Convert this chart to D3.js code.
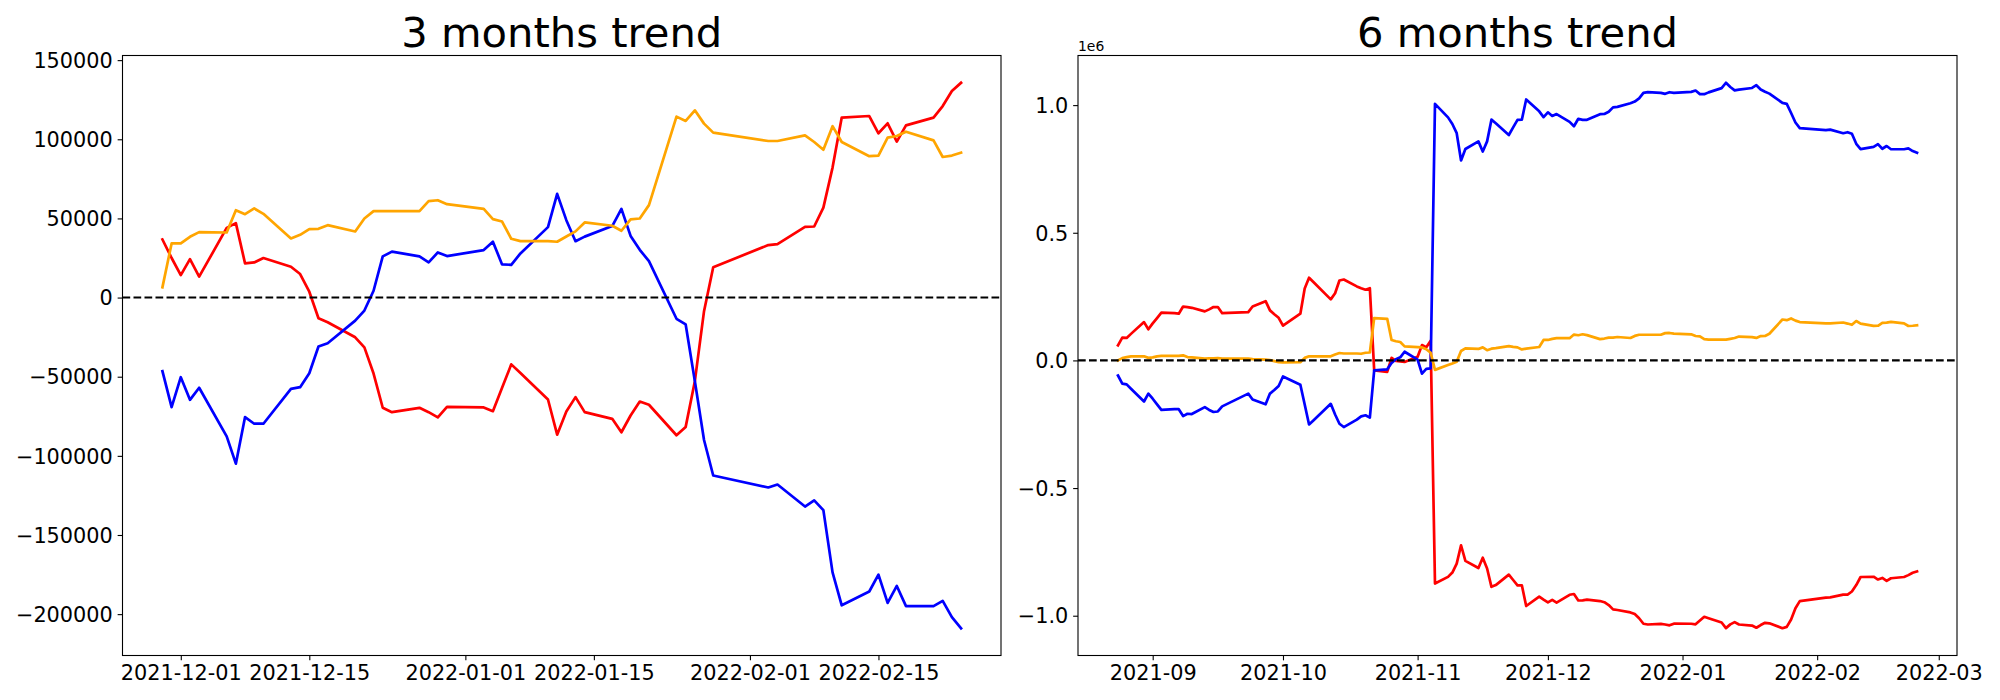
<!DOCTYPE html>
<html><head><meta charset="utf-8">
<script src="https://cdn.jsdelivr.net/npm/d3@7"></script>
<style>
html,body{margin:0;padding:0;background:#fff;}
svg{display:block;font-family:"DejaVu Sans",sans-serif;}
</style></head><body>
<svg id="chart" width="2000" height="700"></svg>
<script>
// ---------------- 3 months panel data ----------------
const dates3 = [
"2021-11-29","2021-11-30","2021-12-01","2021-12-02","2021-12-03",
"2021-12-06","2021-12-07","2021-12-08","2021-12-09","2021-12-10",
"2021-12-13","2021-12-14","2021-12-15","2021-12-16","2021-12-17",
"2021-12-20","2021-12-21","2021-12-22","2021-12-23","2021-12-24",
"2021-12-27","2021-12-28","2021-12-29","2021-12-30",
"2022-01-03","2022-01-04","2022-01-05","2022-01-06","2022-01-07",
"2022-01-10","2022-01-11","2022-01-12","2022-01-13","2022-01-14",
"2022-01-17","2022-01-18","2022-01-19","2022-01-20","2022-01-21",
"2022-01-24","2022-01-25","2022-01-26","2022-01-27","2022-01-28",
"2022-02-03","2022-02-04",
"2022-02-07","2022-02-08","2022-02-09","2022-02-10","2022-02-11",
"2022-02-14","2022-02-15","2022-02-16","2022-02-17","2022-02-18",
"2022-02-21","2022-02-22","2022-02-23","2022-02-24"];
const red3 = [36700,25000,14200,24300,13200,44000,47000,21600,22200,24950,
19500,14850,3700,-13100,-15600,-25100,-31500,-48000,-69600,-72400,
-69650,-72400,-75700,-69000,-69400,-71750,-57000,-42200,-47700,
-64400,-86600,-72000,-62900,-72400,-76600,-85100,-74500,-65700,-67700,
-87000,-81700,-52800,-8600,19200,33150,33800,
44700,44900,56800,82100,113700,114700,103800,110100,98500,108800,
113650,121000,130500,135700];
const blue3 = [-46500,-69200,-50300,-64600,-57000,-87700,-104950,-75500,-79700,-79700,
-57650,-56600,-47800,-30950,-28850,-14550,-8200,4300,26000,29000,
26000,22200,28500,26200,30000,35250,20950,20700,27900,
44500,65500,48900,35600,38500,45150,56000,38950,30150,23000,
-13400,-17000,-52800,-90000,-112400,-120000,-118100,
-132000,-128100,-134300,-173600,-194400,-185700,-175000,-192900,-182200,-194900,
-194900,-191600,-201900,-208900];
const orange3 = [6500,34200,34200,38400,41350,41100,55200,52700,56300,52900,
37350,39650,43250,43450,45750,41750,49950,54600,54600,54600,
54600,60900,61500,59000,56050,49550,48050,37150,35650,
35650,35250,38600,41800,47450,45350,42200,49350,49950,58400,
114300,111600,118300,109900,104200,98900,98900,
102500,98300,93400,108300,98300,89300,89700,101000,102100,104800,
99300,88800,89700,91500];

// ---------------- 6 months panel data ----------------
const dates6 = [
"2021-08-24","2021-08-25","2021-08-26","2021-08-27","2021-08-30","2021-08-31",
"2021-09-01","2021-09-02","2021-09-03","2021-09-06","2021-09-07","2021-09-08","2021-09-09","2021-09-10",
"2021-09-13","2021-09-14","2021-09-15","2021-09-16","2021-09-17","2021-09-23","2021-09-24",
"2021-09-27","2021-09-28","2021-09-29","2021-09-30","2021-10-01",
"2021-10-05","2021-10-06","2021-10-07","2021-10-08","2021-10-12","2021-10-13","2021-10-14","2021-10-15",
"2021-10-18","2021-10-19","2021-10-20","2021-10-21","2021-10-22",
"2021-10-25","2021-10-26","2021-10-27","2021-10-28","2021-10-29",
"2021-11-01","2021-11-02","2021-11-03","2021-11-04","2021-11-05",
"2021-11-08","2021-11-09","2021-11-10","2021-11-11","2021-11-12",
"2021-11-15","2021-11-16","2021-11-17","2021-11-18","2021-11-19",
"2021-11-22","2021-11-23","2021-11-24","2021-11-25","2021-11-26",
"2021-11-29","2021-11-30","2021-12-01","2021-12-02","2021-12-03",
"2021-12-06","2021-12-07","2021-12-08","2021-12-09","2021-12-10",
"2021-12-13","2021-12-14","2021-12-15","2021-12-16","2021-12-17",
"2021-12-20","2021-12-21","2021-12-22","2021-12-23","2021-12-24",
"2021-12-27","2021-12-28","2021-12-29","2021-12-30",
"2022-01-03","2022-01-04","2022-01-05","2022-01-06","2022-01-07",
"2022-01-10","2022-01-11","2022-01-12","2022-01-13","2022-01-14",
"2022-01-17","2022-01-18","2022-01-19","2022-01-20","2022-01-21",
"2022-01-24","2022-01-25","2022-01-26","2022-01-27","2022-01-28",
"2022-02-03","2022-02-04",
"2022-02-07","2022-02-08","2022-02-09","2022-02-10","2022-02-11",
"2022-02-14","2022-02-15","2022-02-16","2022-02-17","2022-02-18",
"2022-02-21","2022-02-22","2022-02-23","2022-02-24"];
const red6 = [59000,89000,88000,104000,150000,122000,
145000,166000,187000,185000,183000,211000,209000,206000,
192000,200000,209000,209000,185000,189000,211000,
232000,196000,181000,167000,136000,
183000,282000,324000,307000,239000,263000,313000,317000,
290000,283000,277000,283000,-39000,
-45000,10000,-2000,-4000,-6000,
14000,60000,52000,77000,-874000,
-848000,-831000,-796000,-724000,-785000,
-813000,-773000,-815000,-887000,-880000,
-839000,-860000,-881000,-881000,-962000,
-925300,-937000,-947800,-937700,-948800,
-918000,-915000,-940400,-939800,-937050,
-942500,-947150,-958300,-975100,-977600,
-987100,-993500,-1010000,-1031600,-1034400,
-1031650,-1034400,-1037700,-1031000,
-1031400,-1033750,-1019000,-1004200,-1009700,
-1026400,-1048600,-1034000,-1024900,-1034400,
-1038600,-1047100,-1036500,-1027700,-1029700,
-1049000,-1043700,-1014800,-970600,-942800,
-928850,-928200,
-917300,-917100,-905200,-879900,-848300,
-847300,-858200,-851900,-863500,-853200,
-848350,-841000,-831500,-826300];
const blue6 = [-59000,-91000,-94000,-111000,-161000,-130000,
-150000,-172000,-194000,-191000,-191000,-218000,-209000,-210000,
-183000,-194000,-202000,-200000,-180000,-130000,-153000,
-172000,-130000,-116000,-100000,-63000,
-95000,-173000,-251000,-235000,-170000,-212000,-248000,-261000,
-232000,-219000,-215000,-224000,-39000,
-35000,-10000,5000,12000,34000,
3000,-52000,-33000,-31000,1005000,
952000,926000,890000,783000,828000,
858000,818000,858000,943000,929000,
883000,913000,942000,943000,1022000,
975500,952800,971700,957400,965000,
934300,917050,946500,942300,942300,
964350,965400,974200,991050,993150,
1007450,1013800,1026300,1048000,1051000,
1048000,1044200,1050500,1048200,
1052000,1057250,1042950,1042700,1049900,
1066500,1087500,1070900,1057600,1060500,
1067150,1078000,1060950,1052150,1045000,
1008600,1005000,969200,932000,909600,
902000,903900,
890000,893900,887700,848400,827600,
836300,847000,829100,839800,827100,
827100,830400,820100,813100];
const orange6 = [0,9000,13000,16000,16000,10000,
12000,16000,18000,18000,18000,20000,13000,12000,
7000,8000,8000,9000,7000,7000,5000,
3000,1000,-3000,-7000,-8000,
-7000,10000,16000,16000,16000,23000,29000,27000,
27000,26000,30000,31000,166000,
163000,80000,75000,72000,55000,
52000,51000,44000,30000,-37000,
-18000,-12000,-5000,37000,47000,
45000,51000,40000,46000,48000,
56000,53000,51000,43000,46000,
52500,80200,80200,84400,87350,
87100,101200,98700,102300,98900,
83350,85650,89250,89450,91750,
87750,95950,100600,100600,100600,
100600,106900,107500,105000,
102050,95550,94050,83150,81650,
81650,81250,84600,87800,93450,
91350,88200,95350,95950,104400,
160300,157600,164300,155900,150200,
144900,144900,
148500,144300,139400,154300,144300,
135300,135700,147000,148100,150800,
145300,134800,135700,137500];

// ---------------- tick labels ----------------
const xTicks3 = ["2021-12-01","2021-12-15","2022-01-01","2022-01-15","2022-02-01","2022-02-15"];
const yTicks3 = [-200000,-150000,-100000,-50000,0,50000,100000,150000];
const xTicks6 = ["2021-09","2021-10","2021-11","2021-12","2022-01","2022-02","2022-03"];
const yTicks6 = [-1.0,-0.5,0.0,0.5,1.0];
const yScale6 = 1e6;
const titles = ["3 months trend","6 months trend"];
const seriesColors = {red:"#ff0000", blue:"#0000ff", orange:"#ffa500"};

// ---------------- drawing ----------------
const svg = d3.select("#chart");
svg.append("rect").attr("width",2000).attr("height",700).attr("fill","#fff");
const parseDay = d3.utcParse("%Y-%m-%d");
const parseMonth = d3.utcParse("%Y-%m");
const TICK = 4.86, FS = 20.8;
const minus = s => s.replace(/-/g, "\u2212");

function panel(box, dates, series, xt, xtParse, yt, ytMul, ytFmt, title, offsetText) {
  const g = svg.append("g");
  const ds = dates.map(parseDay);
  const ext = d3.extent(ds);
  const padT = (ext[1] - ext[0]) * 0.05;
  const x = d3.scaleUtc()
    .domain([new Date(+ext[0] - padT), new Date(+ext[1] + padT)])
    .range([box.left, box.right]);
  const all = series.flatMap(s => s.values);
  const lo = d3.min(all), hi = d3.max(all), pad = (hi - lo) * 0.05;
  const y = d3.scaleLinear().domain([lo - pad, hi + pad]).range([box.bottom, box.top]);

  // lines
  const line = d3.line().x((d, i) => x(ds[i])).y(d => y(d));
  series.forEach(s => {
    g.append("path").datum(s.values)
      .attr("d", line)
      .attr("fill", "none")
      .attr("stroke", s.color)
      .attr("stroke-width", 2.7)
      .attr("stroke-linejoin", "round")
      .attr("stroke-linecap", "square");
  });
  // zero dashed line
  g.append("line")
    .attr("x1", box.left).attr("x2", box.right)
    .attr("y1", y(0)).attr("y2", y(0))
    .attr("stroke", "#000").attr("stroke-width", 2.08)
    .attr("stroke-dasharray", "7.7,3.3");

  // axes
  const xa = g.append("g").attr("transform", `translate(0,${box.bottom})`)
    .call(d3.axisBottom(x).tickValues(xt.map(xtParse))
      .tickFormat((d, i) => xt[i]).tickSizeOuter(0).tickSize(TICK).tickPadding(TICK));
  const ya = g.append("g").attr("transform", `translate(${box.left},0)`)
    .call(d3.axisLeft(y).tickValues(yt.map(v => v * ytMul))
      .tickFormat((d, i) => ytFmt(yt[i])).tickSizeOuter(0).tickSize(TICK).tickPadding(TICK));
  [xa, ya].forEach(a => {
    a.select(".domain").remove();
    a.selectAll(".tick line").attr("stroke", "#000").attr("stroke-width", 1.1);
    a.selectAll(".tick text").attr("fill", "#000")
      .style("font-family", "'DejaVu Sans', sans-serif").style("font-size", FS + "px");
  });
  ya.selectAll(".tick text").attr("dy", "0.35em");

  // frame
  g.append("rect").attr("x", box.left).attr("y", box.top)
    .attr("width", box.right - box.left).attr("height", box.bottom - box.top)
    .attr("fill", "none").attr("stroke", "#000").attr("stroke-width", 1.1);

  // title
  g.append("text").attr("x", (box.left + box.right) / 2).attr("y", box.top - 8.3)
    .attr("text-anchor", "middle").style("font-size", "41.7px").attr("fill", "#000")
    .text(title);
  if (offsetText) {
    g.append("text").attr("x", box.left).attr("y", box.top - 5)
      .style("font-size", "13.9px").attr("fill", "#000").text(offsetText);
  }
}

panel({left:122.5, right:1001, top:55.5, bottom:655.5}, dates3,
  [{values:red3, color:seriesColors.red},
   {values:blue3, color:seriesColors.blue},
   {values:orange3, color:seriesColors.orange}],
  xTicks3, parseDay, yTicks3, 1, v => minus(String(v)), titles[0], null);

panel({left:1078, right:1957, top:55.5, bottom:655.5}, dates6,
  [{values:red6, color:seriesColors.red},
   {values:blue6, color:seriesColors.blue},
   {values:orange6, color:seriesColors.orange}],
  xTicks6, parseMonth, yTicks6, yScale6, v => minus(v.toFixed(1)), titles[1], "1e6");
</script>
</body></html>
